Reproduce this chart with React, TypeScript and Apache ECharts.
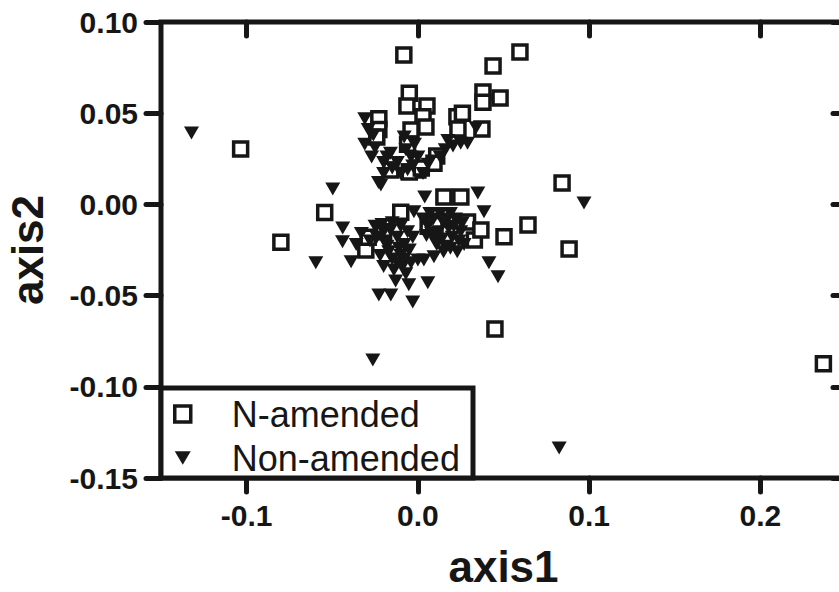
import { useEffect, useRef } from "react";
import * as echarts from "echarts";

const seriesNames = ["N-amended", "Non-amended"];
const xAxisName = "axis1";
const yAxisName = "axis2";
const xTicks = [-0.1, 0.0, 0.1, 0.2];
const yTicks = [-0.15, -0.1, -0.05, 0.0, 0.05, 0.1];

const nAmended: [number, number][] = [
  [-0.0082, 0.0819], [0.0596, 0.0835], [0.0439, 0.0759], [0.048, 0.0583],
  [0.038, 0.0616], [0.038, 0.056], [0.0374, 0.0414], [-0.005, 0.061],
  [-0.0064, 0.054], [0.0053, 0.054], [0.003, 0.048], [0.0047, 0.0424],
  [-0.004, 0.0408], [-0.0228, 0.047], [-0.0228, 0.041], [-0.024, 0.037],
  [0.0228, 0.048], [0.0234, 0.0413], [0.026, 0.05], [0.011, 0.0265],
  [0.0094, 0.0226], [0.0, 0.0189], [-0.005, 0.0178], [-0.0158, 0.0189],
  [-0.006, 0.033], [0.002, 0.02],
  [-0.1035, 0.0304], [-0.08, -0.0207], [-0.0544, -0.0045], [0.0842, 0.0117],
  [0.0883, -0.0245], [0.045, -0.0683], [0.2368, -0.0874],
  [-0.01, -0.0043], [0.0152, 0.0041], [0.0251, 0.0041], [0.029, -0.0096],
  [0.033, -0.0195], [0.0368, -0.014], [0.0503, -0.0178], [0.0643, -0.0113],
  [-0.0304, -0.025], [-0.029, -0.018], [0.006, -0.012], [0.01, -0.011],
  [-0.02, -0.015],
];

const nonAmended: [number, number][] = [
  [-0.1322, 0.0391], [-0.0497, 0.0085], [-0.0216, 0.0107], [-0.0439, -0.013],
  [-0.044, -0.0205], [-0.0596, -0.032], [-0.039, -0.0315], [-0.0023, -0.004],
  [0.035, 0.0062], [0.0386, -0.004], [0.0415, -0.032], [0.0468, -0.0397],
  [0.0094, -0.0287], [0.0058, -0.043], [-0.0053, -0.044], [-0.003, -0.0535],
  [-0.0228, -0.0497], [-0.0158, -0.0497], [0.0035, -0.0305], [0.0, -0.0305],
  [-0.0263, -0.0853], [0.0825, -0.1336], [0.097, 0.0008],
  [-0.025, -0.012], [-0.02, -0.015], [-0.015, -0.01], [-0.012, -0.018],
  [-0.01, -0.012], [-0.008, -0.022], [-0.018, -0.023], [-0.022, -0.028],
  [-0.015, -0.03], [-0.01, -0.028], [-0.005, -0.025], [-0.006, -0.015],
  [-0.028, -0.02], [-0.033, -0.016], [-0.014, -0.036], [-0.009, -0.034],
  [-0.004, -0.032], [-0.019, -0.02], [-0.036, -0.022], [-0.003, -0.018],
  [-0.017, -0.026], [-0.012, -0.032], [-0.02, -0.034], [-0.007, -0.038],
  [-0.013, -0.042], [-0.024, -0.018], [-0.016, -0.014], [-0.011, -0.024],
  [-0.021, -0.011], [-0.008, -0.03],
  [0.003, -0.008], [0.006, -0.012], [0.009, -0.008], [0.012, -0.015],
  [0.015, -0.01], [0.018, -0.013], [0.02, -0.018], [0.022, -0.008],
  [0.025, -0.015], [0.027, -0.022], [0.01, -0.02], [0.016, -0.023],
  [0.023, -0.026], [0.005, -0.017], [0.019, -0.005], [0.013, -0.005],
  [0.008, -0.016], [0.011, -0.022], [0.014, -0.019], [0.017, -0.008],
  [0.021, -0.012], [0.024, -0.02], [0.007, -0.005], [0.026, -0.01],
  [0.015, -0.026], [0.019, -0.024], [0.004, 0.004],
  [-0.031, 0.047], [-0.031, 0.033], [-0.027, 0.026], [-0.023, 0.012],
  [-0.02, 0.023], [-0.018, 0.026], [-0.008, 0.037], [-0.007, 0.03],
  [-0.006, 0.019], [0.0, 0.026], [-0.026, 0.038], [0.0175, 0.035],
  [0.0205, 0.032], [0.025, 0.0335], [0.029, 0.0335], [0.016, 0.03],
  [0.013, 0.026], [0.034, 0.042], [-0.012, 0.023], [-0.002, 0.033],
  [-0.02, 0.017], [-0.015, 0.02], [-0.01, 0.017], [-0.003, 0.021],
  [0.003, 0.017], [-0.016, 0.028], [-0.025, 0.031], [-0.004, 0.026],
  [0.006, 0.022], [-0.029, 0.041],
];

const TRI = "path://M0,0L14,0L7,12Z";

export default function App() {
  const ref = useRef<HTMLDivElement>(null);
  useEffect(() => {
    if (!ref.current) return;
    const chart = echarts.init(ref.current, null, { renderer: "svg" });
    const ink = "#161616";
    const font = "'Liberation Sans', Arial, Helvetica, sans-serif";
    const xMin = -0.15, xMax = 0.25, yMin = -0.15, yMax = 0.1;
    const tickStyle = { color: ink, width: 5, cap: "round" as const };
    const hiddenLine = { show: false, onZero: false };
    const xLabel = {
      customValues: xTicks,
      formatter: (v: number) => v.toFixed(1),
      margin: 22,
      fontSize: 30,
      fontWeight: "bold" as const,
      color: ink,
      fontFamily: font,
    };
    const yLabel = {
      customValues: yTicks,
      formatter: (v: number) => v.toFixed(2),
      margin: 23,
      fontSize: 30,
      fontWeight: "bold" as const,
      color: ink,
      fontFamily: font,
    };
    chart.setOption({
      animation: false,
      backgroundColor: "#ffffff",
      grid: {
        left: 161, top: 22, width: 685, height: 456,
        outerBoundsMode: "none", containLabel: false,
        show: true, borderColor: ink, borderWidth: 5, backgroundColor: "transparent",
      },
      xAxis: [
        {
          type: "value", position: "bottom", min: xMin, max: xMax,
          axisLine: hiddenLine,
          axisTick: { show: true, customValues: xTicks, length: 14, inside: false, lineStyle: tickStyle },
          axisLabel: xLabel,
          splitLine: { show: false },
          name: xAxisName, nameLocation: "middle", nameGap: 66,
          nameTextStyle: { fontSize: 44, fontWeight: "bold", color: ink, fontFamily: font },
        },
        {
          type: "value", position: "top", min: xMin, max: xMax,
          axisLine: hiddenLine,
          axisTick: { show: true, customValues: xTicks, length: 14, inside: true, lineStyle: tickStyle },
          axisLabel: { show: false },
          splitLine: { show: false },
        },
      ],
      yAxis: [
        {
          type: "value", position: "left", min: yMin, max: yMax,
          axisLine: hiddenLine,
          axisTick: { show: true, customValues: yTicks, length: 15, inside: false, lineStyle: tickStyle },
          axisLabel: yLabel,
          splitLine: { show: false },
          name: yAxisName, nameLocation: "middle", nameGap: 112,
          nameTextStyle: { fontSize: 44, fontWeight: "bold", color: ink, fontFamily: font },
        },
        {
          type: "value", position: "right", min: yMin, max: yMax,
          axisLine: hiddenLine,
          axisTick: { show: true, customValues: yTicks, length: 13, inside: true, lineStyle: tickStyle },
          axisLabel: { show: false },
          splitLine: { show: false },
        },
      ],
      legend: {
        left: 173, top: 396, orient: "vertical", itemGap: 8,
        itemWidth: 16, itemHeight: 16, padding: 0, selectedMode: false, z: 10,
        data: [
          { name: seriesNames[0], icon: "rect", itemStyle: { color: "#ffffff", borderColor: ink, borderWidth: 3.5 } },
          { name: seriesNames[1], icon: TRI, itemStyle: { color: ink, borderWidth: 0 } },
        ],
        textStyle: { fontSize: 36, lineHeight: 34, color: ink, fontFamily: font, padding: [0, 0, 0, 36] },
      },
      graphic: [
        {
          type: "rect", z: 5,
          shape: { x: 161, y: 388, width: 312, height: 90 },
          style: { fill: "#ffffff", stroke: ink, lineWidth: 5 },
        },
      ],
      series: [
        {
          name: seriesNames[0], type: "scatter", xAxisIndex: 0, yAxisIndex: 0,
          data: nAmended, symbol: "rect", symbolSize: 14, z: 2,
          itemStyle: { color: "#ffffff", borderColor: ink, borderWidth: 3.5, opacity: 1 },
        },
        {
          name: seriesNames[1], type: "scatter", xAxisIndex: 0, yAxisIndex: 0,
          data: nonAmended, symbol: TRI, symbolSize: [15, 13], z: 3,
          itemStyle: { color: ink, opacity: 1 },
        },
      ],
    });
    return () => chart.dispose();
  }, []);
  return (
    <div
      ref={ref}
      style={{ position: "absolute", left: 0, top: 0, width: 839, height: 592, background: "#fff" }}
    />
  );
}
